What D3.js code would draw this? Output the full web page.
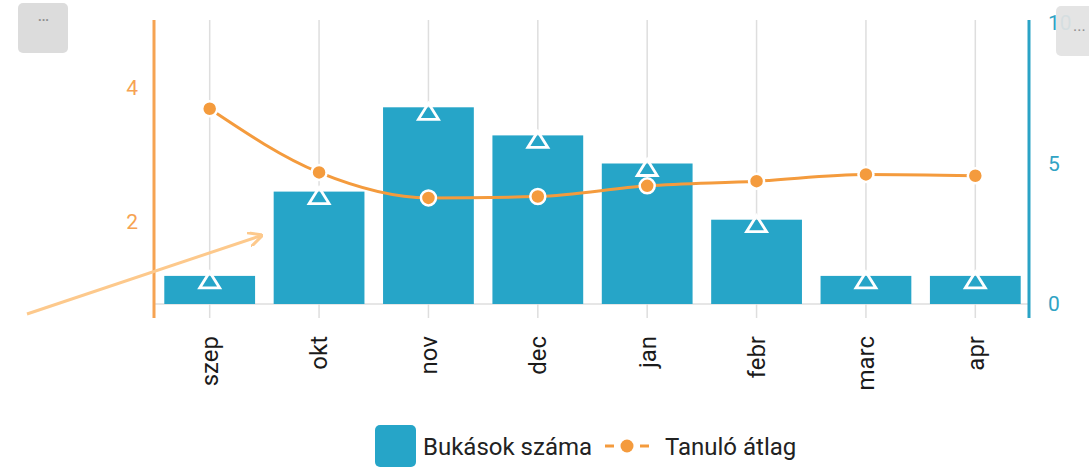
<!DOCTYPE html>
<html>
<head>
<meta charset="utf-8">
<script src="https://cdn.jsdelivr.net/npm/d3@7"></script>
<style>
  html, body { margin: 0; padding: 0; background: #fff; }
  svg { display: block; font-family: Roboto, "Noto Sans", sans-serif; }
</style>
</head>
<body>
<svg id="chart" width="1089" height="469"></svg>
<script>
// Monthly data
const months = ["szep", "okt", "nov", "dec", "jan", "febr", "marc", "apr"];
const failures = [1, 4, 7, 6, 5, 3, 1, 1];                       // Bukások száma (right axis)
const average = [3.69, 2.74, 2.36, 2.38, 2.54, 2.61, 2.71, 2.69]; // Tanuló átlag (left axis)
const leftTicks = [2, 4];
const rightTicks = [0, 5, 10];

const BLUE = "#26a5c8";
const ORANGE = "#f49b3d";
const ORANGE_AXIS = "#f6a352";
const GRID = "#dedede";

const svg = d3.select("#chart");

const plotTop = 20, plotBottom = 318;
const leftX = 154, rightX = 1029;

const x = d3.scaleBand().domain(months).range([155, 1030]).paddingInner(0.17).paddingOuter(0.085);
const xc = d => x(d) + x.bandwidth() / 2;
const yR = d3.scaleLinear().domain([0, 10]).range([304, 23]);
const yL = d3.scaleLinear().domain([0, 5]).range([356, 21]);

// vertical grid lines at each month
svg.append("g").selectAll("line").data(months).join("line")
  .attr("x1", d => xc(d)).attr("x2", d => xc(d))
  .attr("y1", plotTop).attr("y2", plotBottom)
  .attr("stroke", GRID).attr("stroke-width", 1.5);

// baseline
svg.append("line")
  .attr("x1", leftX).attr("x2", rightX)
  .attr("y1", yR(0)).attr("y2", yR(0))
  .attr("stroke", GRID).attr("stroke-width", 1.5);

// bars
svg.append("g").selectAll("rect").data(months).join("rect")
  .attr("x", d => x(d))
  .attr("width", x.bandwidth())
  .attr("y", (d, i) => yR(failures[i]))
  .attr("height", (d, i) => yR(0) - yR(failures[i]))
  .attr("fill", BLUE);

// triangle markers on bar values
const tri = (cx, cy) => `M${cx},${cy - 4}L${cx + 10},${cy + 12}L${cx - 10},${cy + 12}Z`;
svg.append("g").selectAll("path").data(months).join("path")
  .attr("d", (d, i) => tri(xc(d), yR(failures[i])))
  .attr("fill", "none").attr("stroke", "#fff").attr("stroke-width", 2.8)
  .attr("stroke-linejoin", "miter");

// average line
const line = d3.line()
  .x((d, i) => xc(months[i]))
  .y(d => yL(d))
  .curve(d3.curveMonotoneX);
svg.append("path").datum(average)
  .attr("d", line)
  .attr("fill", "none").attr("stroke", ORANGE).attr("stroke-width", 3);

svg.append("g").selectAll("circle").data(average).join("circle")
  .attr("cx", (d, i) => xc(months[i]))
  .attr("cy", d => yL(d))
  .attr("r", 7.5)
  .attr("fill", ORANGE).attr("stroke", "#fff").attr("stroke-width", 2.5);

// left axis
const leftAxis = d3.axisLeft(yL).tickValues(leftTicks).tickSize(0).tickPadding(16).tickFormat(d3.format("d"));
const gL = svg.append("g").attr("transform", `translate(${leftX},0)`).call(leftAxis);
gL.select(".domain").remove();
gL.selectAll("text").attr("fill", ORANGE_AXIS).style("font-size", "21px").attr("font-family", "Roboto");
svg.append("line").attr("x1", leftX).attr("x2", leftX).attr("y1", plotTop).attr("y2", plotBottom)
  .attr("stroke", ORANGE_AXIS).attr("stroke-width", 3);

// right axis
const rightAxis = d3.axisRight(yR).tickValues(rightTicks).tickSize(0).tickPadding(19).tickFormat(d3.format("d"));
const gR = svg.append("g").attr("transform", `translate(${rightX},0)`).call(rightAxis);
gR.select(".domain").remove();
gR.selectAll("text").attr("fill", "#31a3c4").style("font-size", "21px").attr("font-family", "Roboto");
svg.append("line").attr("x1", rightX).attr("x2", rightX).attr("y1", plotTop).attr("y2", plotBottom)
  .attr("stroke", "#2aa3c6").attr("stroke-width", 3);

// month labels, rotated
const bottomAxis = d3.axisBottom(x).tickSize(0).tickPadding(0);
const gB = svg.append("g").attr("transform", `translate(0,${plotBottom})`).call(bottomAxis);
gB.select(".domain").remove();
gB.selectAll("text")
  .attr("transform", "rotate(-90)")
  .attr("text-anchor", "end")
  .attr("x", -18).attr("y", 0).attr("dy", "0.35em")
  .attr("fill", "#1a1a1a").style("font-size", "24px").attr("font-family", "Roboto");

// annotation arrow
svg.append("defs").append("marker")
  .attr("id", "arrowhead").attr("viewBox", "0 0 10 10")
  .attr("refX", 8).attr("refY", 5).attr("markerWidth", 5).attr("markerHeight", 5)
  .attr("orient", "auto")
  .append("path").attr("d", "M0,0L10,5L0,10").attr("fill", "none")
  .attr("stroke", "#fdc98c").attr("stroke-width", 2);
svg.append("line")
  .attr("x1", 27).attr("y1", 314).attr("x2", 260).attr("y2", 236)
  .attr("stroke", "#fdc98c").attr("stroke-width", 3)
  .attr("marker-end", "url(#arrowhead)");

// menu buttons
svg.append("rect").attr("x", 18).attr("y", 3).attr("width", 50).attr("height", 50).attr("rx", 5)
  .attr("fill", "#dcdcdc");
svg.append("text").attr("x", 43).attr("y", 27).attr("text-anchor", "middle")
  .attr("fill", "#8f8f8f").style("font-size", "18px").style("letter-spacing", "-1px").text("···");
svg.append("rect").attr("x", 1056).attr("y", 6).attr("width", 50).attr("height", 50).attr("rx", 5)
  .attr("fill", "#e2e2e2").attr("fill-opacity", 0.93);
svg.append("text").attr("x", 1073).attr("y", 31)
  .attr("fill", "#8f8f8f").style("font-size", "16px").text("...");

// legend
const lg = svg.append("g");
lg.append("rect").attr("x", 375).attr("y", 425).attr("width", 41).attr("height", 42).attr("rx", 5).attr("fill", BLUE);
lg.append("text").attr("x", 423).attr("y", 455).attr("fill", "#222")
  .style("font-size", "24px").text("Bukások száma");
lg.append("line").attr("x1", 605).attr("x2", 614).attr("y1", 446).attr("y2", 446)
  .attr("stroke", ORANGE).attr("stroke-width", 3);
lg.append("line").attr("x1", 640).attr("x2", 649).attr("y1", 446).attr("y2", 446)
  .attr("stroke", ORANGE).attr("stroke-width", 3);
lg.append("circle").attr("cx", 627).attr("cy", 446).attr("r", 6.5).attr("fill", ORANGE);
lg.append("text").attr("x", 665).attr("y", 455).attr("fill", "#222")
  .style("font-size", "24px").text("Tanuló átlag");
</script>
</body>
</html>
